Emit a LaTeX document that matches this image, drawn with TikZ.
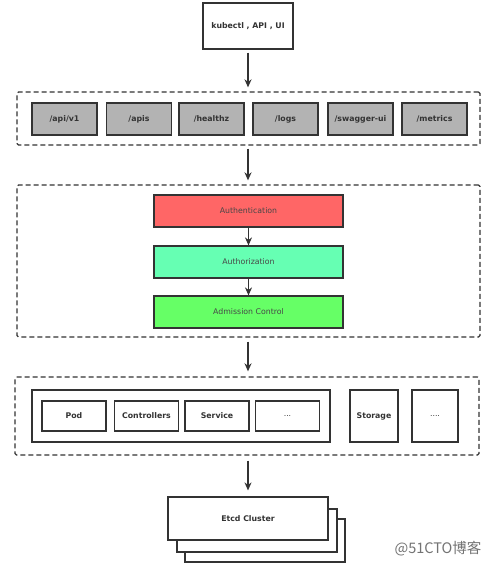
\documentclass[tikz,border=0pt]{standalone}
\usepackage{fontspec}
\setmainfont{DejaVu Sans}
\newfontfamily\cjk{Noto Sans CJK SC}
\usetikzlibrary{arrows.meta}
\definecolor{edge}{HTML}{333333}
\definecolor{grayfill}{HTML}{B3B3B3}
\definecolor{authred}{HTML}{FF6666}
\definecolor{authzgreen}{HTML}{66FFB3}
\definecolor{admgreen}{HTML}{66FF66}
\begin{document}
\begin{tikzpicture}[x=1pt,y=-1pt,
  box/.style={draw=edge,line width=1.2pt,rectangle,inner sep=0pt,fill=white,font=\fontsize{7.8}{9}\selectfont\bfseries,text=edge},
  graybox/.style={box,fill=grayfill,minimum width=65pt,minimum height=32pt},
  stagebox/.style={box,minimum width=189pt,minimum height=32pt,font=\fontsize{7.8}{9}\selectfont,text=edge!90},
  dashbox/.style={draw=edge,line width=1.3pt,dash pattern=on 5pt off 3pt,rectangle,rounded corners=1.5pt,inner sep=0pt},
  arr/.style={draw=edge,line width=1.3pt,-{Stealth[length=8pt,width=7pt]}},
]
\useasboundingbox (0,0) rectangle (496,564);
\fill[white] (0,0) rectangle (496,564);

\node[box,minimum width=90pt,minimum height=46pt] (top) at (248,26) {kubectl , API , UI};

\node[dashbox,minimum width=463pt,minimum height=53pt] (d1) at (248.5,118.5) {};
\node[graybox] (g1) at (64.5,119) {/api/v1};
\node[graybox] (g2) at (139,119) {/apis};
\node[graybox] (g3) at (211.5,119) {/healthz};
\node[graybox] (g4) at (285.5,119) {/logs};
\node[graybox] (g5) at (360.5,119) {/swagger-ui};
\node[graybox] (g6) at (434.5,119) {/metrics};

\node[dashbox,minimum width=463pt,minimum height=152pt] (d2) at (248.5,261) {};
\node[stagebox,fill=authred] (authn) at (248.5,211) {Authentication};
\node[stagebox,fill=authzgreen] (authz) at (248.5,262) {Authorization};
\node[stagebox,fill=admgreen] (adm) at (248.5,312) {Admission Control};

\node[dashbox,minimum width=464pt,minimum height=78pt] (d3) at (247,416) {};
\node[box,minimum width=298pt,minimum height=52pt] (res) at (181,416) {};
\node[box,minimum width=64pt,minimum height=30pt] (pod) at (74,416) {Pod};
\node[box,minimum width=64pt,minimum height=30pt] (ctrl) at (146.5,416) {Controllers};
\node[box,minimum width=64pt,minimum height=30pt] (svc) at (217,416) {Service};
\node[box,minimum width=64pt,minimum height=30pt,font=\fontsize{7.8}{9}\selectfont] (more1) at (287.5,416) {...};
\node[box,minimum width=48pt,minimum height=52pt] (stor) at (374,416) {Storage};
\node[box,minimum width=46pt,minimum height=52pt,font=\fontsize{7.8}{9}\selectfont] (more2) at (435,416) {....};

\node[box,minimum width=160pt,minimum height=43pt] (etcd3) at (265,540.5) {};
\node[box,minimum width=160pt,minimum height=43pt] (etcd2) at (257,530.5) {};
\node[box,minimum width=160pt,minimum height=43pt] (etcd) at (248,518.5) {Etcd Cluster};

\draw[arr,shorten <=3pt,shorten >=4pt] (top.south) -- (d1.north -| top.south);
\draw[arr,shorten <=3pt,shorten >=4pt] (d1.south -| top.south) -- (d2.north -| top.south);
\draw[arr] (authn.south) -- (authz.north);
\draw[arr] (authz.south) -- (adm.north);
\draw[arr,shorten <=4pt,shorten >=5pt] (d2.south -| top.south) -- (d3.north -| top.south);
\draw[arr,shorten <=5pt,shorten >=6pt] (d3.south -| top.south) -- (etcd.north);

\node[text=black!55,font=\cjk\fontsize{14.5}{16}\selectfont] (wm) at (438,549) {@51CTO博客};
\end{tikzpicture}
\end{document}
